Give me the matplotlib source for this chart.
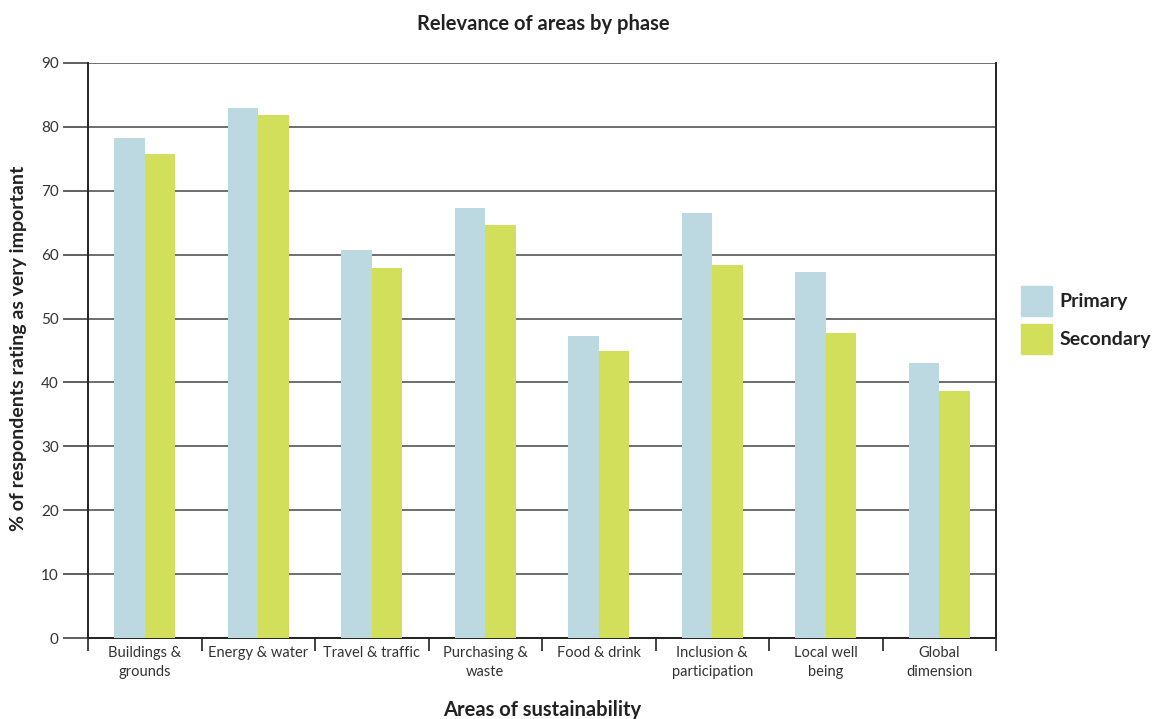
import matplotlib
matplotlib.use("Agg")
import matplotlib.pyplot as plt
import numpy as np
from matplotlib.patches import Patch

plt.rcParams['font.family'] = ['Lato', 'DejaVu Sans']

categories = ["Buildings &\ngrounds", "Energy & water", "Travel & traffic", "Purchasing &\nwaste",
              "Food & drink", "Inclusion &\nparticipation", "Local well\nbeing", "Global\ndimension"]
primary = [78.3, 83.0, 60.7, 67.3, 47.3, 66.5, 57.3, 43.0]
secondary = [75.8, 81.9, 57.9, 64.6, 44.9, 58.4, 47.7, 38.6]
yticks = list(range(0, 91, 10))

c_pri = "#BCD9E2"
c_sec = "#D1DF5B"

fig = plt.figure(figsize=(11.56, 7.19), dpi=100)
ax = fig.add_axes([88/1156, 1-638/719, (996-88)/1156, (638-63)/719])

x = np.arange(len(categories))
w = 0.27
ax.bar(x - w/2, primary, w, color=c_pri, zorder=3)
ax.bar(x + w/2, secondary, w, color=c_sec, zorder=3)

ax.set_xlim(-0.5, len(categories) - 0.5)
ax.set_ylim(0, 90)
ax.set_yticks(yticks)
ax.grid(axis='y', color='#555555', linewidth=1.2, zorder=1)
ax.set_axisbelow(True)

ax.set_xticks(x)
ax.set_xticklabels(categories, fontsize=10.5, color='#333333', linespacing=1.4)
ax.tick_params(axis='x', which='major', length=0, pad=6)
ax.set_xticks(np.arange(-0.5, len(categories), 1), minor=True)
ax.tick_params(axis='x', which='minor', length=9, width=1.3, color='#333333', direction='out')
ax.tick_params(axis='y', length=18, width=1.2, color='#444444', labelsize=11, labelcolor='#333333', pad=3)

for side in ['left', 'bottom', 'right']:
    ax.spines[side].set_color('#222222')
    ax.spines[side].set_linewidth(1.4)
ax.spines['top'].set_visible(False)

fig.text(19/1156, 1-348/719, "% of respondents rating as very important", rotation=90, ha='center', va='center',
         fontsize=14, fontweight='bold', color='#222222')
fig.text(542/1156, 1-710/719, "Areas of sustainability", ha='center', va='center',
         fontsize=14.5, fontweight='bold', color='#222222')
fig.text(543/1156, 1-24/719, "Relevance of areas by phase", ha='center', va='center',
         fontsize=14.5, fontweight='bold', color='#222222')

handles = [Patch(color=c_pri, label='Primary'), Patch(color=c_sec, label='Secondary')]
leg = fig.legend(handles=handles, loc='upper left', bbox_to_anchor=(1013/1156, 1-278/719), frameon=False,
                 handlelength=1.6, handleheight=2.0, handletextpad=0.4, labelspacing=0.4,
                 borderpad=0.4, borderaxespad=0.0,
                 prop={'size': 14, 'weight': 'bold'})
for t in leg.get_texts():
    t.set_color('#222222')

fig.savefig("out.png", dpi=100)
